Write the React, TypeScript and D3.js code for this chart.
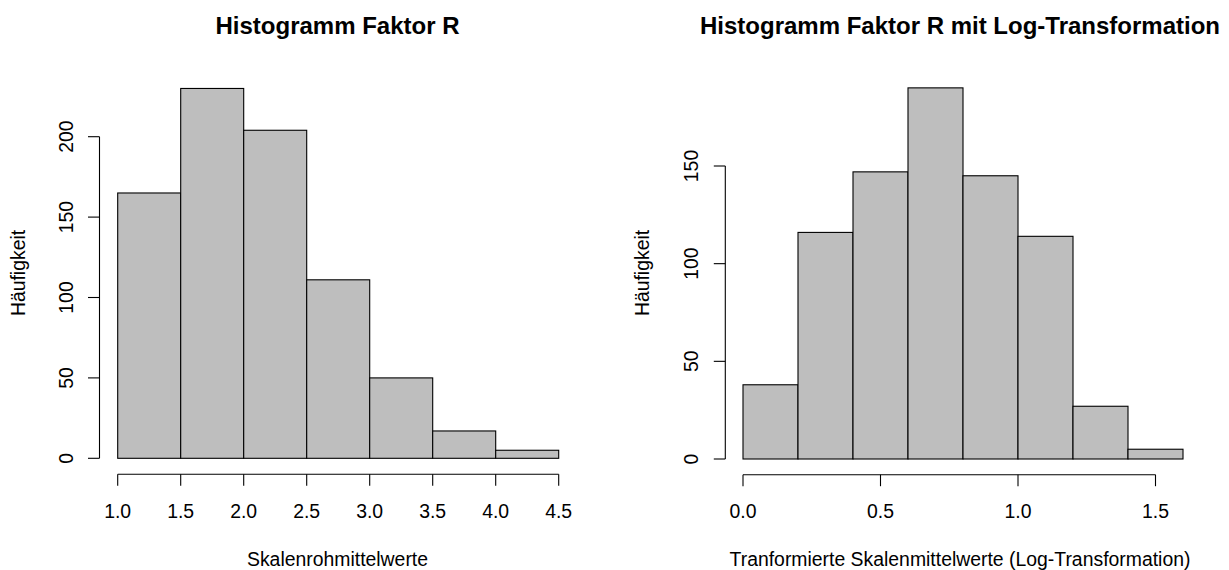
import React from "react";
import * as d3 from "d3";

const leftBreaks = [1.0, 1.5, 2.0, 2.5, 3.0, 3.5, 4.0, 4.5];
const leftCounts = [165, 230, 204, 111, 50, 17, 5];
const leftXTicks = [1.0, 1.5, 2.0, 2.5, 3.0, 3.5, 4.0, 4.5];
const leftYTicks = [0, 50, 100, 150, 200];

const rightBreaks = [0, 0.2, 0.4, 0.6, 0.8, 1.0, 1.2, 1.4, 1.6];
const rightCounts = [38, 116, 147, 190, 145, 114, 27, 5];
const rightXTicks = [0, 0.5, 1.0, 1.5];
const rightYTicks = [0, 50, 100, 150];

const FONT = "'Liberation Sans', Arial, sans-serif";
const FILL = "#bebebe";

type PanelProps = {
  breaks: number[];
  counts: number[];
  xTicks: number[];
  yTicks: number[];
  x: d3.ScaleLinear<number, number>;
  y: d3.ScaleLinear<number, number>;
  yAxisX: number;
  xAxisY: number;
  title: string;
  titleX: number;
  xLabel: string;
  yLabelX: number;
  yTickX: number;
};

function Panel(p: PanelProps) {
  const { breaks, counts, x, y } = p;
  const yMax = d3.max(p.yTicks) as number;
  const yMin = d3.min(p.yTicks) as number;
  const xMax = d3.max(p.xTicks) as number;
  const xMin = d3.min(p.xTicks) as number;
  return (
    <g>
      {counts.map((c, i) => (
        <rect
          key={i}
          x={x(breaks[i])}
          y={y(c)}
          width={x(breaks[i + 1]) - x(breaks[i])}
          height={y(0) - y(c)}
          fill={FILL}
          stroke="#000"
          strokeWidth={1.1}
        />
      ))}
      <line x1={p.yAxisX} x2={p.yAxisX} y1={y(yMin)} y2={y(yMax)} stroke="#000" strokeWidth={1.1} />
      {p.yTicks.map((t) => (
        <g key={"yt" + t}>
          <line x1={p.yAxisX - 11.5} x2={p.yAxisX} y1={y(t)} y2={y(t)} stroke="#000" strokeWidth={1.1} />
          <text
            transform={`translate(${p.yTickX},${y(t)}) rotate(-90)`}
            textAnchor="middle"
            fontFamily={FONT}
            fontSize={19.4}
            fill="#000"
          >
            {String(t)}
          </text>
        </g>
      ))}
      <line x1={x(xMin)} x2={x(xMax)} y1={p.xAxisY} y2={p.xAxisY} stroke="#000" strokeWidth={1.1} />
      {p.xTicks.map((t) => (
        <g key={"xt" + t}>
          <line x1={x(t)} x2={x(t)} y1={p.xAxisY} y2={p.xAxisY + 11.5} stroke="#000" strokeWidth={1.1} />
          <text x={x(t)} y={517.5} textAnchor="middle" fontFamily={FONT} fontSize={19.4} fill="#000">
            {d3.format(".1f")(t)}
          </text>
        </g>
      ))}
      <text x={p.titleX} y={34} textAnchor="middle" fontFamily={FONT} fontSize={24} fontWeight="bold" fill="#000">
        {p.title}
      </text>
      <text
        transform={`translate(${p.yLabelX},273) rotate(-90)`}
        textAnchor="middle"
        fontFamily={FONT}
        fontSize={19.4}
        fill="#000"
      >
        Häufigkeit
      </text>
      <text x={p.titleX} y={566} textAnchor="middle" fontFamily={FONT} fontSize={19.4} fill="#000">
        {p.xLabel}
      </text>
    </g>
  );
}

export default function App() {
  const xL = d3.scaleLinear().domain([1.0, 4.5]).range([117.7, 558.7]);
  const yL = d3.scaleLinear().domain([0, 200]).range([458.3, 136.7]);
  const xR = d3.scaleLinear().domain([0, 1.5]).range([743, 1155.5]);
  const yR = d3.scaleLinear().domain([0, 150]).range([459, 166]);
  return (
    <svg width={1229} height={570} style={{ position: "absolute", left: 0, top: 0, background: "#fff" }}>
      <Panel
        breaks={leftBreaks}
        counts={leftCounts}
        xTicks={leftXTicks}
        yTicks={leftYTicks}
        x={xL}
        y={yL}
        yAxisX={99.5}
        xAxisY={474.3}
        title="Histogramm Faktor R"
        titleX={337.5}
        xLabel="Skalenrohmittelwerte"
        yLabelX={25}
        yTickX={73}
      />
      <Panel
        breaks={rightBreaks}
        counts={rightCounts}
        xTicks={rightXTicks}
        yTicks={rightYTicks}
        x={xR}
        y={yR}
        yAxisX={725.3}
        xAxisY={474.7}
        title="Histogramm Faktor R mit Log-Transformation"
        titleX={960}
        xLabel="Tranformierte Skalenmittelwerte (Log-Transformation)"
        yLabelX={649}
        yTickX={698}
      />
    </svg>
  );
}
